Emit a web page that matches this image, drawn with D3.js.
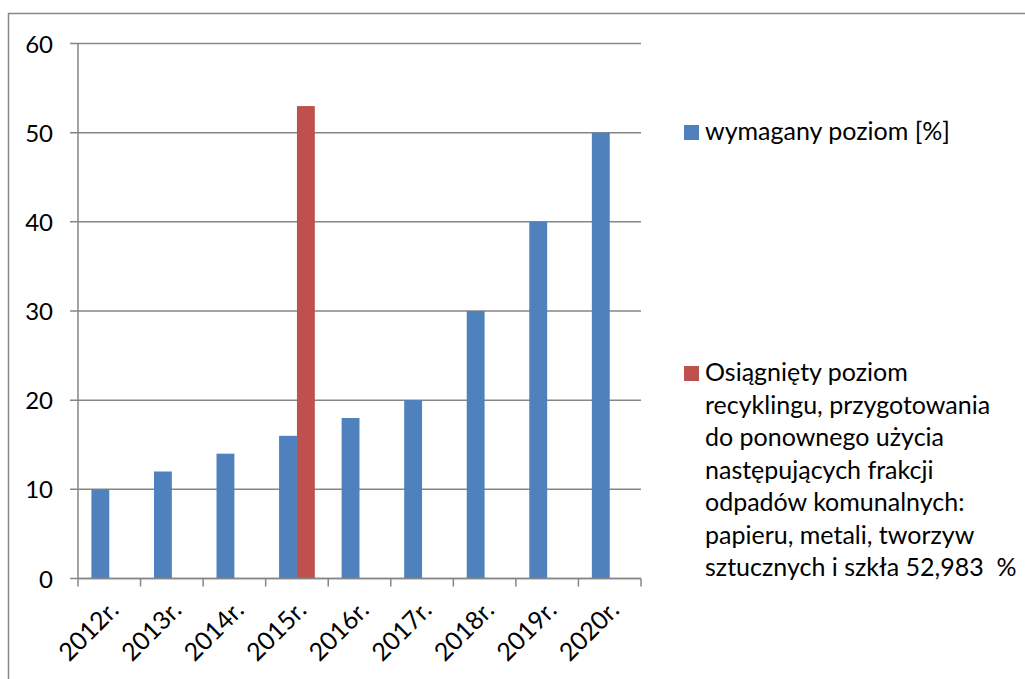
<!DOCTYPE html>
<html>
<head>
<meta charset="utf-8">
<script src="https://cdn.jsdelivr.net/npm/d3@7"></script>
<style>
  html, body { margin: 0; padding: 0; background: #fff; }
  svg { display: block; font-family: Lato, "Open Sans", sans-serif; }
  text { white-space: pre; }
</style>
</head>
<body>
<svg id="chart" width="1025" height="679"></svg>
<script>
const categories = ["2012r.", "2013r.", "2014r.", "2015r.", "2016r.", "2017r.", "2018r.", "2019r.", "2020r."];
const requiredLevel = [10, 12, 14, 16, 18, 20, 30, 40, 50];
const achievedLevel = [null, null, null, 52.983, null, null, null, null, null];
const seriesNames = ["wymagany poziom [%]", "Osiągnięty poziom recyklingu, przygotowania do ponownego użycia następujących frakcji odpadów komunalnych: papieru, metali, tworzyw sztucznych i szkła 52,983  %"];
const legendLines = [
  ["wymagany poziom [%]"],
  ["Osiągnięty poziom", "recyklingu, przygotowania", "do ponownego użycia", "następujących frakcji", "odpadów komunalnych:", "papieru, metali, tworzyw", "sztucznych i szkła 52,983  %"]
];
const yTicks = [0, 10, 20, 30, 40, 50, 60];
const colors = ["#4F81BD", "#C0504D"];

const svg = d3.select("#chart");
const plot = { left: 78, right: 641, top: 43.5, bottom: 578.5 };

// chart border
svg.append("rect")
  .attr("x", 8.5).attr("y", 13.5).attr("width", 1100).attr("height", 800)
  .attr("fill", "none").attr("stroke", "#868686").attr("stroke-width", 1.5);

const x = d3.scaleBand().domain(categories).range([plot.left, plot.right]).paddingInner(0).paddingOuter(0);
const y = d3.scaleLinear().domain([0, 60]).range([plot.bottom, plot.top]);
const barW = x.bandwidth() / 3.5;
const x1 = d3.scaleBand().domain([0, 1]).range([0, 2 * barW]);

// gridlines + y ticks
svg.append("g").selectAll("line").data(yTicks).join("line")
  .attr("x1", plot.left - 8).attr("x2", plot.right)
  .attr("y1", d => y(d)).attr("y2", d => y(d))
  .attr("stroke", "#868686").attr("stroke-width", 1.5);

svg.append("g").selectAll("text").data(yTicks).join("text")
  .attr("x", 53).attr("y", d => y(d) + 9)
  .attr("text-anchor", "end")
  .attr("font-size", 24)
  .attr("fill", "#000")
  .text(d => d);

// bars
const groups = svg.append("g").selectAll("g").data(categories).join("g")
  .attr("transform", d => `translate(${x(d) + (x.bandwidth() - 2 * barW) / 2},0)`);

[requiredLevel, achievedLevel].forEach((vals, si) => {
  groups.filter((d, i) => vals[i] != null).append("rect")
    .attr("x", x1(si))
    .attr("width", barW)
    .attr("y", (d) => y(vals[categories.indexOf(d)]))
    .attr("height", (d) => plot.bottom - y(vals[categories.indexOf(d)]))
    .attr("fill", colors[si]);
});

// axes lines
svg.append("line").attr("x1", plot.left).attr("x2", plot.left)
  .attr("y1", plot.top).attr("y2", plot.bottom)
  .attr("stroke", "#868686").attr("stroke-width", 1.5);
svg.append("line").attr("x1", plot.left).attr("x2", plot.right)
  .attr("y1", plot.bottom).attr("y2", plot.bottom)
  .attr("stroke", "#868686").attr("stroke-width", 1.5);

// x tick marks at band boundaries
const bounds = categories.map(c => x(c)).concat([plot.right]);
svg.append("g").selectAll("line").data(bounds).join("line")
  .attr("x1", d => d).attr("x2", d => d)
  .attr("y1", plot.bottom).attr("y2", plot.bottom + 8)
  .attr("stroke", "#868686").attr("stroke-width", 1.5);

// x labels
svg.append("g").selectAll("text").data(categories).join("text")
  .attr("transform", d => `translate(${x(d) + x.bandwidth() / 2 + 11},${plot.bottom + 33}) rotate(-45)`)
  .attr("text-anchor", "end")
  .attr("font-size", 25)
  .attr("fill", "#000")
  .text(d => d);

// legend
const legendTop = [140, 381];
legendLines.forEach((lines, si) => {
  svg.append("rect")
    .attr("x", 684).attr("y", legendTop[si] - 15).attr("width", 15).attr("height", 15)
    .attr("fill", colors[si]);
  const t = svg.append("text").attr("x", 705).attr("y", legendTop[si])
    .attr("font-size", 25).attr("fill", "#000");
  lines.forEach((ln, k) => {
    t.append("tspan").attr("x", 705).attr("dy", k === 0 ? 0 : 32.5).text(ln);
  });
});
</script>
</body>
</html>
